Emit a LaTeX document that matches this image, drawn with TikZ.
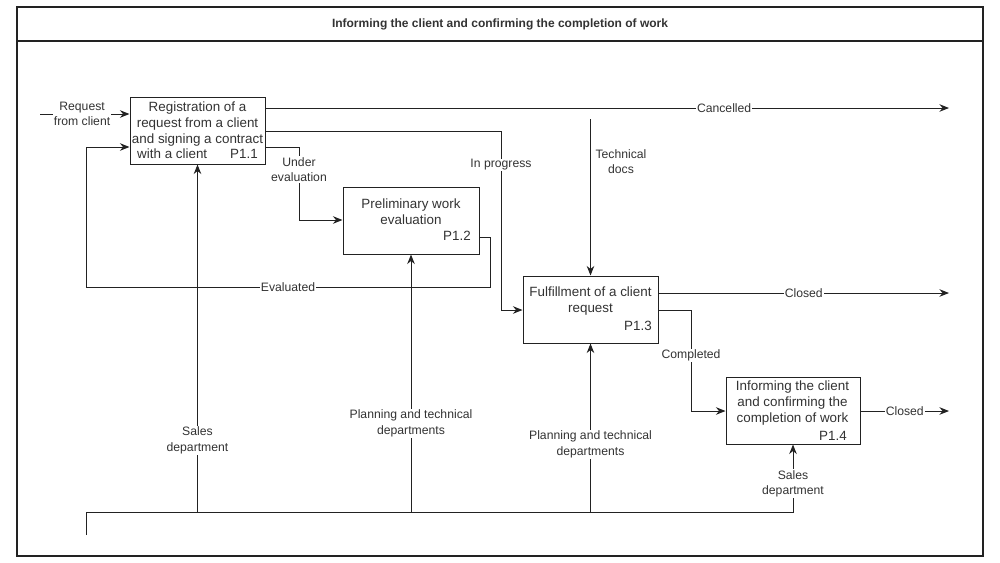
\documentclass[tikz,border=0pt]{standalone}
\usepackage{fontspec}
\setmainfont{Liberation Sans}
\usetikzlibrary{arrows.meta}
\definecolor{ink}{HTML}{222222}
\definecolor{txt}{HTML}{333333}
\tikzset{
  procbox/.style={draw=ink, line width=1pt, inner sep=0pt, fill=white},
  boxtext/.style={font=\fontsize{13.4}{15.7}\selectfont, text=txt, align=center, inner sep=0pt},
  plabel/.style={font=\fontsize{13.4}{15.7}\selectfont, text=txt, inner sep=0pt, anchor=east},
  flow/.style={draw=ink, line width=1pt},
  arr/.style={flow, -{Stealth[length=9.5pt,width=7.5pt,inset=3pt]}},
  lbl/.style={font=\fontsize{12.2}{15.6}\selectfont, text=txt, align=center, fill=white, inner sep=1pt},
  freelbl/.style={font=\fontsize{12.2}{15.6}\selectfont, text=txt, align=center, inner sep=1pt},
}
\begin{document}
\begin{tikzpicture}[x=1pt, y=-1pt]
\useasboundingbox (0,0) rectangle (1000,562);
% frame
\draw[ink, line width=1.2pt] (17,7) rectangle (983,556);
\draw[ink, line width=1.2pt] (17,41) -- (983,41);
\node[font=\fontsize{12}{14}\selectfont\bfseries, text=txt] (title) at (500,24) {Informing the client and confirming the completion of work};

% process boxes
\node[procbox, minimum width=135pt, minimum height=67pt] (p1) at (197.5,130.5) {};
\node[boxtext] (t1) at (197.5,130.5) {Registration of a\\request from a client\\and signing a contract\\with a client\hspace{23pt}P1.1};

\node[procbox, minimum width=136pt, minimum height=67pt] (p2) at (411,220.5) {};
\node[boxtext] (t2) at (411,212) {Preliminary work\\evaluation};
\node[plabel] (l2) at (471,236) {P1.2};

\node[procbox, minimum width=135pt, minimum height=67pt] (p3) at (590.5,309.5) {};
\node[boxtext] (t3) at (590.5,301) {Fulfillment of a client\\request};
\node[plabel] (l3) at (652,326) {P1.3};

\node[procbox, minimum width=134pt, minimum height=67pt] (p4) at (793,410.5) {};
\node[boxtext] (t4) at (792.5,403) {Informing the client\\and confirming the\\completion of work};
\node[plabel] (l4) at (847,436) {P1.4};

% free ends
\coordinate (rq) at (40,114);
\coordinate (cend) at (949,108);
\coordinate (c1end) at (949,293);
\coordinate (c2end) at (949,411);
\coordinate (td) at (590.5,119);
\coordinate (m0) at (86,535);

% input request
\draw[arr] (rq) -- (p1.west |- rq) node[lbl, pos=0.47] (lrq) {Request\\from client};

% cancelled
\draw[arr] (p1.east |- cend) -- (cend) node[lbl, pos=0.671] (lc) {Cancelled};

% in progress
\draw[arr] (p1.east |- 0,131) -- (501,131) -- node[lbl, pos=0.19] (lip) {In progress} (501,310) -- (p3.west |- 0,310);

% under evaluation
\draw[arr] (p1.east |- 0,147) -- (299,147) -- node[lbl, pos=0.31] (lue) {Under\\evaluation} (299,220) -- (p2.west |- 0,220);

% evaluated loop
\draw[arr] (p2.east |- 0,237) -- (490,237) -- (490,287) -- node[lbl, pos=0.5] (lev) {Evaluated} (86,287) -- (86,147) -- (p1.west |- 0,147);

% technical docs
\draw[arr] (td) -- (p3.north);
\node[freelbl] (ltd) at (621,161.5) {Technical\\docs};

% closed from P1.3
\draw[arr] (p3.east |- c1end) -- (c1end) node[lbl, pos=0.5] (lcl1) {Closed};

% completed
\draw[arr] (p3.east |- 0,310) -- (691,310) -- node[lbl, pos=0.45] (lcp) {Completed} (691,411) -- (p4.west |- c2end);

% closed from P1.4
\draw[arr] (p4.east |- c2end) -- (c2end) node[lbl, pos=0.5] (lcl2) {Closed};

% mechanisms
\draw[arr] (m0) -- (86,512) -- (p4.south |- 0,512) -- node[lbl, pos=0.42] (ls2) {Sales\\department} (p4.south);
\draw[arr] (p1.south |- 0,512) -- node[lbl, pos=0.207] (ls1) {Sales\\department} (p1.south);
\draw[arr] (p2.south |- 0,512) -- node[lbl, pos=0.345] (lpt1) {Planning and technical\\departments} (p2.south);
\draw[arr] (p3.south |- 0,512) -- node[lbl, pos=0.40] (lpt2) {Planning and technical\\departments} (p3.south);
\end{tikzpicture}
\end{document}
